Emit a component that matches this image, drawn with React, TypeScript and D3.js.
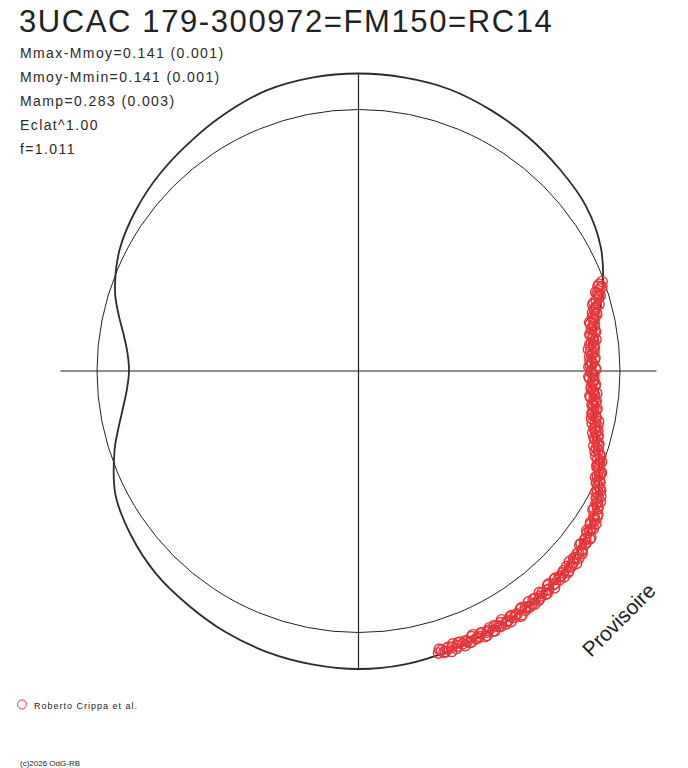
import React, { useEffect, useRef } from 'react';
import * as d3 from 'd3';

// Model light curve: phase and magnitude offset from the mean (positive = brighter)
const modelPhase = [
  0, 0.025, 0.05, 0.075, 0.1, 0.125, 0.15, 0.175, 0.2, 0.2125, 0.225, 0.2375,
  0.25, 0.2625, 0.275, 0.2875, 0.3, 0.325, 0.35, 0.375, 0.4, 0.425, 0.45, 0.475,
  0.5, 0.525, 0.55, 0.575, 0.6, 0.625, 0.65, 0.675, 0.7, 0.7125, 0.725, 0.7375,
  0.75, 0.7625, 0.775, 0.7875, 0.8, 0.825, 0.85, 0.875, 0.9, 0.925, 0.95, 0.975,
];
const modelDm = [
  0.144, 0.142, 0.138, 0.124, 0.11, 0.094, 0.078, 0.042, -0.02, -0.058, -0.09, -0.111,
  -0.118, -0.111, -0.097, -0.072, -0.038, 0.032, 0.079, 0.102, 0.113, 0.12, 0.131, 0.142,
  0.146, 0.142, 0.136, 0.126, 0.112, 0.1, 0.077, 0.045, -0.02, -0.058, -0.092, -0.117,
  -0.128, -0.119, -0.094, -0.058, -0.022, 0.026, 0.053, 0.074, 0.092, 0.114, 0.135, 0.142,
];

// Observations (Roberto Crippa et al.), two nights
const obsPhaseA = [
  0.194, 0.196, 0.198, 0.2, 0.202, 0.204, 0.206, 0.208, 0.21, 0.212, 0.214, 0.216,
  0.218, 0.22, 0.222, 0.224, 0.226, 0.228, 0.23, 0.232, 0.234, 0.236, 0.238, 0.24,
  0.242, 0.244, 0.246, 0.248, 0.25, 0.252, 0.254, 0.256, 0.258, 0.26, 0.262, 0.264,
  0.266, 0.268, 0.27, 0.272, 0.274, 0.276, 0.278, 0.28, 0.282, 0.284, 0.286, 0.288,
  0.29, 0.292, 0.294, 0.296, 0.298, 0.3, 0.302, 0.304, 0.306, 0.308, 0.31, 0.312,
  0.314, 0.316, 0.318, 0.32, 0.322, 0.324, 0.326, 0.328, 0.33, 0.332, 0.334, 0.336,
  0.338, 0.34, 0.342, 0.344, 0.346, 0.348, 0.35, 0.352, 0.354, 0.356, 0.358, 0.36,
  0.362, 0.364, 0.366, 0.368, 0.37, 0.372, 0.374, 0.376, 0.378, 0.38, 0.382, 0.384,
  0.386, 0.388, 0.39, 0.392, 0.394, 0.396, 0.398, 0.4, 0.402, 0.404, 0.406, 0.408,
  0.41, 0.412, 0.414, 0.416, 0.418, 0.42, 0.422, 0.424, 0.426, 0.428, 0.43, 0.432,
  0.434, 0.436, 0.438, 0.44, 0.442, 0.444, 0.446, 0.448, 0.45, 0.452, 0.454, 0.456,
];
const obsDmA = [
  -0.008, -0.03, -0.027, -0.042, -0.034, -0.054, -0.072, -0.06, -0.071, -0.067, -0.086, -0.083,
  -0.099, -0.086, -0.099, -0.085, -0.106, -0.099, -0.098, -0.115, -0.098, -0.113, -0.107, -0.119,
  -0.101, -0.113, -0.118, -0.099, -0.116, -0.109, -0.124, -0.104, -0.11, -0.098, -0.112, -0.103,
  -0.097, -0.111, -0.088, -0.099, -0.094, -0.083, -0.096, -0.081, -0.094, -0.077, -0.064, -0.075,
  -0.067, -0.053, -0.066, -0.049, -0.042, -0.046, -0.047, -0.019, -0.026, -0.014, -0.02, -0.007,
  0.007, -0.002, 0.012, 0.006, 0.028, 0.024, 0.045, 0.032, 0.045, 0.054, 0.045, 0.07,
  0.061, 0.072, 0.063, 0.085, 0.077, 0.075, 0.097, 0.083, 0.093, 0.08, 0.102, 0.096,
  0.11, 0.095, 0.105, 0.11, 0.096, 0.117, 0.103, 0.106, 0.113, 0.098, 0.111, 0.096,
  0.112, 0.12, 0.106, 0.111, 0.12, 0.104, 0.117, 0.12, 0.11, 0.104, 0.128, 0.114,
  0.121, 0.109, 0.117, 0.125, 0.111, 0.12, 0.108, 0.125, 0.115, 0.13, 0.111, 0.12,
  0.123, 0.109, 0.128, 0.115, 0.122, 0.112, 0.131, 0.12, 0.116, 0.129, 0.119, 0.127,
];
const obsPhaseB = [
  0.195, 0.197, 0.199, 0.201, 0.203, 0.205, 0.207, 0.209, 0.211, 0.213, 0.215, 0.217,
  0.219, 0.221, 0.223, 0.225, 0.227, 0.229, 0.231, 0.233, 0.235, 0.237, 0.239, 0.241,
  0.243, 0.245, 0.247, 0.249, 0.251, 0.253, 0.255, 0.257, 0.259, 0.261, 0.263, 0.265,
  0.267, 0.269, 0.271, 0.273, 0.275, 0.277, 0.279, 0.281, 0.283, 0.285, 0.287, 0.289,
  0.291, 0.293, 0.295, 0.297, 0.299, 0.301, 0.303, 0.305, 0.307, 0.309, 0.311, 0.313,
  0.315, 0.317, 0.319, 0.321, 0.323, 0.325, 0.327, 0.329, 0.331, 0.333, 0.335, 0.337,
  0.339, 0.341, 0.343, 0.345, 0.347, 0.349, 0.351, 0.353, 0.355, 0.357, 0.359, 0.361,
  0.363, 0.365, 0.367, 0.369, 0.371, 0.373, 0.375, 0.377, 0.379, 0.381, 0.383, 0.385,
  0.387, 0.389, 0.391, 0.393, 0.395, 0.397, 0.399, 0.401, 0.403, 0.405, 0.407, 0.409,
  0.411, 0.413, 0.415, 0.417, 0.419, 0.421, 0.423, 0.425, 0.427, 0.429, 0.431, 0.433,
  0.435, 0.437, 0.439, 0.441, 0.443, 0.445, 0.447, 0.449, 0.451, 0.453, 0.455,
];
const obsDmB = [
  -0.023, -0.016, -0.046, -0.038, -0.042, -0.065, -0.048, -0.069, -0.081, -0.067, -0.079, -0.101,
  -0.085, -0.098, -0.087, -0.109, -0.098, -0.088, -0.108, -0.1, -0.122, -0.101, -0.111, -0.099,
  -0.119, -0.11, -0.124, -0.097, -0.115, -0.105, -0.12, -0.105, -0.097, -0.112, -0.106, -0.089,
  -0.115, -0.097, -0.09, -0.102, -0.08, -0.091, -0.096, -0.077, -0.065, -0.088, -0.072, -0.059,
  -0.077, -0.054, -0.06, -0.041, -0.058, -0.035, -0.026, -0.037, -0.008, -0.018, -0.017, 0.007,
  0.005, -0.007, 0.019, 0.015, 0.034, 0.019, 0.037, 0.054, 0.042, 0.058, 0.044, 0.072,
  0.067, 0.083, 0.066, 0.079, 0.068, 0.097, 0.083, 0.095, 0.081, 0.098, 0.108, 0.094,
  0.1, 0.117, 0.091, 0.108, 0.114, 0.099, 0.118, 0.104, 0.097, 0.112, 0.123, 0.098,
  0.11, 0.119, 0.098, 0.117, 0.107, 0.123, 0.101, 0.118, 0.121, 0.106, 0.13, 0.114,
  0.109, 0.127, 0.119, 0.102, 0.123, 0.114, 0.128, 0.107, 0.119, 0.131, 0.112, 0.124,
  0.104, 0.128, 0.119, 0.132, 0.112, 0.123, 0.109, 0.136, 0.119, 0.13, 0.113,
];

const title = '3UCAC 179-300972=FM150=RC14';
const infoLines = [
  'Mmax-Mmoy=0.141 (0.001)',
  'Mmoy-Mmin=0.141 (0.001)',
  'Mamp=0.283 (0.003)',
  'Eclat^1.00',
  'f=1.011',
];
const legendLabel = 'Roberto Crippa et al.';
const stampLabel = 'Provisoire';
const copyright = '(c)2026 OdG-RB';

const RED = '#e8363b';
const INK = '#222';

const PolarLightCurve: React.FC = () => {
  const svgRef = useRef<SVGSVGElement>(null);

  useEffect(() => {
    if (!svgRef.current) return;

    // Clear previous chart
    d3.select(svgRef.current).selectAll('*').remove();

    const width = 688;
    const height = 768;
    const cx = 358.5;
    const cy = 371;

    const svg = d3.select(svgRef.current)
      .attr('width', width)
      .attr('height', height)
      .style('font-family', '"Liberation Sans", Arial, sans-serif');

    svg.append('rect').attr('width', width).attr('height', height).attr('fill', '#fff');

    // phase -> angle (clockwise from top), magnitude offset -> radius
    const angle = d3.scaleLinear().domain([0, 1]).range([0, 2 * Math.PI]);
    const radius = d3.scaleLinear().domain([-0.141, 0.141]).range([226.25, 296.75]);

    const model: [number, number][] = modelPhase.map((p, i) => [p, modelDm[i]]);
    const obs: [number, number][] = [
      ...obsPhaseA.map((p, i) => [p, obsDmA[i]] as [number, number]),
      ...obsPhaseB.map((p, i) => [p, obsDmB[i]] as [number, number]),
    ];

    const g = svg.append('g').attr('transform', `translate(${cx}, ${cy})`);

    // Cross hairs
    const axisR = radius(d3.max(modelDm) as number);
    g.append('line')
      .attr('x1', -axisR).attr('x2', axisR).attr('y1', 0).attr('y2', 0)
      .attr('stroke', INK).attr('stroke-width', 1.2);
    g.append('line')
      .attr('x1', 0).attr('x2', 0).attr('y1', -axisR).attr('y2', axisR)
      .attr('stroke', INK).attr('stroke-width', 1.2);

    // Mean magnitude circle
    g.append('circle')
      .attr('r', radius(0))
      .attr('fill', 'none')
      .attr('stroke', INK)
      .attr('stroke-width', 1);

    // Model curve
    const line = d3.lineRadial<[number, number]>()
      .angle(d => angle(d[0]))
      .radius(d => radius(d[1]))
      .curve(d3.curveCatmullRomClosed);

    g.append('path')
      .datum(model)
      .attr('d', line)
      .attr('fill', 'none')
      .attr('stroke', '#2b2b2b')
      .attr('stroke-width', 1.8);

    // Observations
    g.selectAll('.obs')
      .data(obs)
      .enter()
      .append('circle')
      .attr('class', 'obs')
      .attr('cx', d => d3.pointRadial(angle(d[0]), radius(d[1]))[0])
      .attr('cy', d => d3.pointRadial(angle(d[0]), radius(d[1]))[1])
      .attr('r', 5.2)
      .attr('fill', 'none')
      .attr('stroke', RED)
      .attr('stroke-width', 1.4);

    // Title and parameters
    svg.append('text')
      .attr('x', 19)
      .attr('y', 32)
      .attr('font-size', 31)
      .attr('letter-spacing', 1.6)
      .attr('fill', INK)
      .text(title);

    svg.selectAll('.info')
      .data(infoLines)
      .enter()
      .append('text')
      .attr('class', 'info')
      .attr('x', 20)
      .attr('y', (_, i) => 58 + i * 23.9)
      .attr('font-size', 14)
      .attr('letter-spacing', 1.4)
      .attr('fill', '#2a2a2a')
      .text(d => d);

    // Legend
    svg.append('circle')
      .attr('cx', 22)
      .attr('cy', 704.5)
      .attr('r', 4.5)
      .attr('fill', 'none')
      .attr('stroke', RED)
      .attr('stroke-width', 1);
    svg.append('text')
      .attr('x', 34)
      .attr('y', 708.5)
      .attr('font-size', 9)
      .attr('letter-spacing', 1)
      .attr('fill', INK)
      .text(legendLabel);

    svg.append('text')
      .attr('transform', 'translate(591, 658) rotate(-45)')
      .attr('font-size', 21)
      .attr('fill', INK)
      .text(stampLabel);

    svg.append('text')
      .attr('x', 20)
      .attr('y', 766)
      .attr('font-size', 8)
      .attr('fill', INK)
      .text(copyright);
  }, []);

  return (
    <div style={{ position: 'absolute', left: 0, top: 0 }}>
      <svg ref={svgRef} style={{ display: 'block' }}></svg>
    </div>
  );
};

export default function App() {
  return <PolarLightCurve />;
}
